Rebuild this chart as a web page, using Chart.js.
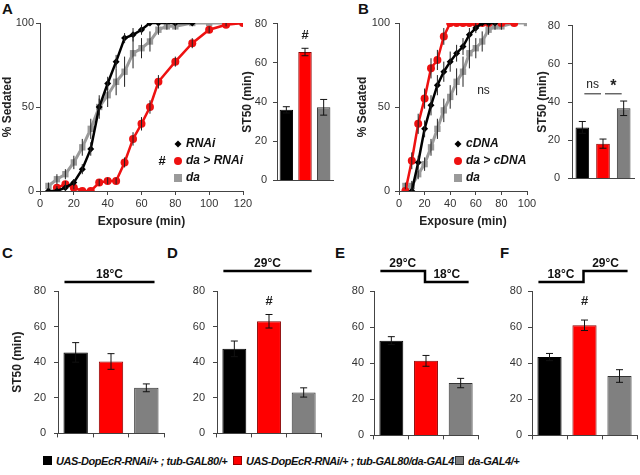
<!DOCTYPE html>
<html>
<head>
<meta charset="utf-8">
<script src="https://cdn.jsdelivr.net/npm/chart.js@4.4.1/dist/chart.umd.min.js"></script>
<style>
  html, body { margin: 0; padding: 0; background: #fff; }
  body { width: 640px; height: 475px; overflow: hidden; position: relative;
         font-family: 'Liberation Sans', Arial, sans-serif; color: #111; }
  canvas { position: absolute; }
  .panel { position: absolute; font-size: 15px; font-weight: bold; line-height: 15px; }
  .leg { position: absolute; top: 455px; font-size: 11px; font-weight: bold; font-style: italic;
         white-space: nowrap; line-height: 13px; letter-spacing: -0.45px; }
  .box { display: inline-block; width: 7px; height: 7px; border: 1px solid #222;
         margin-right: 4px; vertical-align: 0px; }
</style>
</head>
<body>
<div class="panel" style="left:2px;top:1px">A</div>
<div class="panel" style="left:358px;top:1px">B</div>
<div class="panel" style="left:2px;top:245px">C</div>
<div class="panel" style="left:167px;top:245px">D</div>
<div class="panel" style="left:335px;top:245px">E</div>
<div class="panel" style="left:500px;top:245px">F</div>

<div class="leg" style="left:43px"><span class="box" style="background:#000;border-color:#000"></span>UAS-DopEcR-RNAi/+ ; tub-GAL80/+</div>
<div class="leg" style="left:233px"><span class="box" style="background:#ff0000;border-color:#900"></span>UAS-DopEcR-RNAi/+ ; tub-GAL80/da-GAL4</div>
<div class="leg" style="left:455px"><span class="box" style="background:#808080;border-color:#333"></span>da-GAL4/+</div>

<script>
// ---- panel A: sedation curves ----
var aTimesRnai = [5, 10, 15, 20, 25, 30, 35, 40, 45, 50, 55, 60, 65, 70, 80, 90];
var aRnai      = [0, 0, 2, 5, 13, 25, 50, 64, 77, 91, 93, 96, 100, 100, 100, 100];
var aRnaiErr   = [0, 0, 1, 2, 3, 4, 5, 4, 4, 3, 4, 3, 0, 0, 0, 0];

var aTimesDaRnai = [10, 15, 20, 25, 30, 35, 40, 45, 50, 55, 60, 65, 70, 80, 90, 100, 110, 120];
var aDaRnai      = [2, 4, 2, 0, 0, 5, 6, 6, 17, 31, 40, 50, 65, 77, 88, 96, 99, 100];
var aDaRnaiErr   = [1, 2, 1, 0, 0, 2, 2, 2, 3, 4, 4, 4, 4, 3, 3, 2, 1, 0];

var aTimesDa = [5, 10, 15, 20, 25, 30, 35, 40, 45, 50, 55, 60, 65, 70, 75, 80, 90, 100, 110, 120];
var aDa      = [3, 7, 10, 17, 26, 37, 50, 57, 65, 71, 82, 85, 89, 96, 98, 98, 100, 100, 100, 100];
var aDaErr   = [2, 3, 3, 4, 5, 6, 7, 7, 8, 9, 9, 6, 6, 3, 2, 2, 0, 0, 0, 0];

// ---- panel B: sedation curves ----
var bTimesCdna = [10, 15, 20, 25, 30, 35, 40, 45, 50, 55, 60, 65, 70, 75];
var bCdna      = [0, 17, 37, 51, 63, 71, 77, 82, 86, 93, 97, 100, 100, 100];
var bCdnaErr   = [0, 4, 5, 6, 6, 6, 6, 5, 5, 4, 3, 0, 0, 0];

var bTimesDaCdna = [5, 10, 15, 20, 25, 30, 35, 40, 45, 50, 55, 60, 65, 70, 80, 90];
var bDaCdna      = [0, 18, 40, 55, 73, 78, 92, 100, 100, 100, 100, 100, 100, 100, 100, 100];
var bDaCdnaErr   = [0, 5, 6, 6, 6, 6, 5, 0, 0, 0, 0, 0, 0, 0, 0, 0];

var bTimesDa = [5, 10, 15, 20, 25, 30, 35, 40, 45, 50, 55, 60, 65, 70, 75, 80, 90, 100];
var bDa      = [3, 3, 10, 16, 26, 37, 48, 56, 65, 71, 82, 85, 89, 96, 98, 98, 100, 100];
var bDaErr   = [2, 3, 3, 4, 5, 6, 7, 7, 8, 9, 9, 6, 6, 3, 2, 2, 0, 0];

// ---- ST50 bars (black, red, gray) ----
var genotypes = ['UAS-DopEcR-RNAi/+ ; tub-GAL80/+', 'UAS-DopEcR-RNAi/+ ; tub-GAL80/da-GAL4', 'da-GAL4/+'];
var stA = [36, 65.5, 37.3],  stAErr = [1.6, 1.9, 4];
var stB = [26.7, 18.2, 36.7], stBErr = [3.1, 2.4, 3.8];
var stC = [45.5, 40.4, 25.6], stCErr = [5.5, 4.4, 2.2];
var stD = [47.5, 63, 23],     stDErr = [4.4, 3.8, 2.6];
var stE = [52.5, 41.3, 29],   stEErr = [2.2, 3, 2.6];
var stF = [43.4, 61, 32.9],   stFErr = [2, 2.9, 3.5];

var xTicksA = 120, xTicksB = 100;

var FONT = "'Liberation Sans', Arial, sans-serif";
Chart.defaults.font.family = FONT;
Chart.defaults.font.size = 11;
Chart.defaults.color = '#333';
Chart.defaults.animation = false;
Chart.defaults.events = [];
Chart.defaults.plugins.legend.display = false;
Chart.defaults.plugins.tooltip.enabled = false;

var barFill = ['#000000', '#ff0000', '#808080'];
var barEdge = ['#000000', '#8a0000', '#333333'];

function makeCanvas(left, top, width, height) {
  var c = document.createElement('canvas');
  c.width = width; c.height = height;
  c.style.left = left + 'px'; c.style.top = top + 'px';
  c.style.width = width + 'px'; c.style.height = height + 'px';
  document.body.appendChild(c);
  return c;
}

function pts(xs, ys) {
  return xs.map(function (x, i) { return { x: x, y: ys[i] }; });
}

function valueOf(d) { return typeof d === 'object' ? d.y : d; }

// error bars for every dataset that has an errors array
var errorBars = {
  id: 'errorBars',
  afterDatasetsDraw: function (chart) {
    var ctx = chart.ctx, ys = chart.scales.y;
    chart.data.datasets.forEach(function (ds, i) {
      if (!ds.errors) return;
      var meta = chart.getDatasetMeta(i);
      ctx.save();
      ctx.strokeStyle = ds.errColor || '#111';
      ctx.lineWidth = 1;
      meta.data.forEach(function (el, j) {
        var e = ds.errors[j];
        if (!e) return;
        var v = valueOf(ds.data[j]);
        var top = ys.getPixelForValue(v + e), bot = ys.getPixelForValue(v - e);
        ctx.beginPath();
        ctx.moveTo(el.x, top); ctx.lineTo(el.x, bot);
        if (ds.cap) {
          ctx.moveTo(el.x - ds.cap, top); ctx.lineTo(el.x + ds.cap, top);
          ctx.moveTo(el.x - ds.cap, bot); ctx.lineTo(el.x + ds.cap, bot);
        }
        ctx.stroke();
      });
      ctx.restore();
    });
  }
};

function drawMarker(ctx, style, x, y, r, color) {
  ctx.fillStyle = color;
  ctx.beginPath();
  if (style === 'circle') ctx.arc(x, y, r, 0, Math.PI * 2);
  else if (style === 'rect') ctx.rect(x - r, y - r, 2 * r, 2 * r);
  else { ctx.moveTo(x, y - r); ctx.lineTo(x + r, y); ctx.lineTo(x, y + r); ctx.lineTo(x - r, y); ctx.closePath(); }
  ctx.fill();
}

// small legend inside the curve plots
var inLegend = {
  id: 'inLegend',
  afterDraw: function (chart, args, opts) {
    if (!opts.dx) return;
    var ctx = chart.ctx, a = chart.chartArea;
    ctx.save();
    ctx.textBaseline = 'middle';
    chart.data.datasets.forEach(function (ds, i) {
      var x = a.left + opts.dx, y = a.top + opts.dy + i * 17;
      drawMarker(ctx, ds.pointStyle, x, y, ds.pointStyle === 'rectRot' ? 3.5 : 4, ds.borderColor);
      ctx.fillStyle = '#111';
      ctx.font = 'italic bold 12px ' + FONT;
      ctx.textAlign = 'left';
      ctx.fillText(ds.label, x + 8, y);
      if (opts.hashRow === i) {
        ctx.font = 'bold 13px ' + FONT;
        ctx.textAlign = 'center';
        ctx.fillText('#', x - 16, y);
      }
    });
    ctx.restore();
  }
};

// "#", "ns", "*" notes in data coordinates
var notes = {
  id: 'notes',
  afterDatasetsDraw: function (chart, args, opts) {
    var items = opts.items || [];
    var ctx = chart.ctx, xs = chart.scales.x, ys = chart.scales.y;
    ctx.save();
    ctx.textAlign = 'center';
    ctx.textBaseline = 'middle';
    items.forEach(function (it) {
      ctx.fillStyle = '#222';
      ctx.font = (it.weight || 'bold') + ' ' + (it.size || 13) + 'px ' + FONT;
      if (it.from !== undefined) {
        var a = xs.getPixelForValue(it.from) + 2, b = xs.getPixelForValue(it.to) - 2;
        var y = ys.getPixelForValue(it.y);
        ctx.strokeStyle = '#444'; ctx.lineWidth = 1.2;
        ctx.beginPath(); ctx.moveTo(a, y); ctx.lineTo(b, y); ctx.stroke();
        ctx.fillText(it.text, (a + b) / 2, y - 9 + (it.dy || 0));
      } else {
        ctx.fillText(it.text, xs.getPixelForValue(it.x), ys.getPixelForValue(it.y));
      }
    });
    ctx.restore();
  }
};

// temperature regime drawn above the bottom bar charts
var tempHeader = {
  id: 'tempHeader',
  afterDraw: function (chart, args, opts) {
    if (!opts.steps) return;
    var ctx = chart.ctx, top = chart.chartArea.top;
    var bars = chart.getDatasetMeta(0).data;
    var x0 = bars[0].x - bars[0].width / 2 + 1;
    var x2 = bars[2].x + bars[2].width / 2 - 4;
    var xm = chart.scales.x.getPixelForValue(1) - 1;
    var lev = { hi: top - 20, lo: top - 9 };
    var segs = opts.steps.length === 1
      ? [{ a: x0, b: x2, y: lev[opts.steps[0].level], t: opts.steps[0].label }]
      : [{ a: x0, b: xm, y: lev[opts.steps[0].level], t: opts.steps[0].label },
         { a: xm, b: x2, y: lev[opts.steps[1].level], t: opts.steps[1].label }];
    ctx.save();
    ctx.strokeStyle = '#000'; ctx.lineWidth = 2.5;
    ctx.beginPath();
    ctx.moveTo(segs[0].a, segs[0].y);
    segs.forEach(function (s) { ctx.lineTo(s.a, s.y); ctx.lineTo(s.b, s.y); });
    ctx.stroke();
    ctx.fillStyle = '#111';
    ctx.font = 'bold 12px ' + FONT;
    ctx.textAlign = 'center';
    ctx.textBaseline = 'alphabetic';
    segs.forEach(function (s) { ctx.fillText(s.t, (s.a + s.b) / 2, s.y - 4); });
    ctx.restore();
  }
};

function curveChart(area, axisW, tickPad, xMax, datasets, legendOpts, noteItems) {
  var padTop = 12, padRight = 14, xH = 38;
  var left = area.l - axisW, top = area.t - padTop;
  var cv = makeCanvas(left, top, area.r - left + padRight, area.b - top + xH);
  return new Chart(cv, {
    type: 'line',
    data: { datasets: datasets },
    options: {
      responsive: false,
      layout: { padding: { top: padTop, right: padRight, left: 0, bottom: 0 } },
      scales: {
        x: {
          type: 'linear', min: 0, max: xMax,
          ticks: { stepSize: 20, padding: 2 },
          grid: { drawOnChartArea: false, tickLength: 4, color: '#444' },
          border: { color: '#444' },
          title: { display: true, text: 'Exposure (min)', color: '#222', font: { size: 12, weight: 'bold' }, padding: 0 },
          afterFit: function (s) { s.height = xH; }
        },
        y: {
          min: 0, max: 100,
          ticks: { stepSize: 50, padding: tickPad },
          grid: { drawOnChartArea: false, tickLength: 4, color: '#444' },
          border: { color: '#444' },
          title: { display: true, text: '% Sedated', color: '#222', font: { size: 12, weight: 'bold' }, padding: 0 },
          afterFit: function (s) { s.width = axisW; }
        }
      },
      plugins: { inLegend: legendOpts, notes: { items: noteItems } }
    },
    plugins: [errorBars, inLegend, notes]
  });
}

function curveSet(label, times, vals, errs, color, style, radius, width) {
  return {
    label: label, data: pts(times, vals), errors: errs, errColor: '#222',
    borderColor: color, backgroundColor: color, borderWidth: width,
    pointStyle: style, pointRadius: radius, pointBorderWidth: 0, tension: 0
  };
}

function stChart(area, axisW, tickPad, values, errors, o) {
  var padTop = o.padTop, padRight = 3, xH = o.xTicks ? 4 : 2;
  var left = area.l - axisW, top = area.t - padTop;
  var cv = makeCanvas(left, top, area.r - left + padRight, area.b - top + xH);
  return new Chart(cv, {
    type: 'bar',
    data: {
      labels: genotypes,
      datasets: [{
        data: values, errors: errors, cap: 3.5, errColor: '#111',
        backgroundColor: barFill, borderColor: barEdge, borderWidth: 1,
        categoryPercentage: 1, barPercentage: o.barPct
      }]
    },
    options: {
      responsive: false,
      layout: { padding: { top: padTop, right: padRight, left: 0, bottom: 0 } },
      scales: {
        x: {
          ticks: { display: false },
          grid: { display: !!o.xTicks, offset: true, drawOnChartArea: false, tickLength: 4, color: '#444' },
          border: { color: '#444' },
          afterFit: function (s) { s.height = xH; }
        },
        y: {
          min: 0, max: 80,
          ticks: { stepSize: 20, padding: tickPad },
          grid: { drawOnChartArea: false, tickLength: 4, color: '#444' },
          border: { color: '#444' },
          title: { display: !!o.title, text: 'ST50 (min)', color: '#222', font: { size: 12, weight: 'bold' }, padding: 0 },
          afterFit: function (s) { s.width = axisW; }
        }
      },
      plugins: { notes: { items: o.notes || [] }, tempHeader: { steps: o.steps } }
    },
    plugins: [errorBars, notes, tempHeader]
  });
}

// A curves
curveChart({ l: 40, r: 243, t: 23, b: 191 }, 40, 2, xTicksA, [
  curveSet('RNAi', aTimesRnai, aRnai, aRnaiErr, '#000000', 'rectRot', 3.5, 2.5),
  curveSet('da > RNAi', aTimesDaRnai, aDaRnai, aDaRnaiErr, '#ee1111', 'circle', 4, 2.5),
  curveSet('da', aTimesDa, aDa, aDaErr, '#9a9a9a', 'rect', 4.5, 3)
], { dx: 138, dy: 121, hashRow: 1 }, []);

// B curves
curveChart({ l: 399, r: 527, t: 23, b: 191 }, 44, 5, xTicksB, [
  curveSet('cDNA', bTimesCdna, bCdna, bCdnaErr, '#000000', 'rectRot', 3.5, 2.5),
  curveSet('da > cDNA', bTimesDaCdna, bDaCdna, bDaCdnaErr, '#ee1111', 'circle', 4, 2.5),
  curveSet('da', bTimesDa, bDa, bDaErr, '#9a9a9a', 'rect', 4.5, 3)
], { dx: 59, dy: 121 }, [{ x: 66, y: 60, text: 'ns', weight: 'normal', size: 12 }]);

// A, B bars
stChart({ l: 277, r: 333, t: 23, b: 191 }, 37, 6, stA, stAErr,
  { padTop: 12, barPct: 0.72, title: true, notes: [{ x: 1, y: 74, text: '#' }] });
stChart({ l: 572, r: 634, t: 23, b: 191 }, 37, 8, stB, stBErr,
  { padTop: 12, barPct: 0.66, title: true, notes: [
    { from: 0, to: 1, y: 44.3, text: 'ns', weight: 'normal', size: 12 },
    { from: 1, to: 2, y: 44.3, text: '*', size: 16, dy: 2 }
  ] });

// C - F bars
stChart({ l: 58, r: 164, t: 291, b: 444 }, 48, 8, stC, stCErr,
  { padTop: 45, barPct: 0.69, title: true, xTicks: true, steps: [{ level: 'lo', label: '18°C' }] });
stChart({ l: 217, r: 321, t: 291, b: 444 }, 40, 8, stD, stDErr,
  { padTop: 45, barPct: 0.69, xTicks: true, steps: [{ level: 'hi', label: '29°C' }],
    notes: [{ x: 1, y: 74, text: '#' }] });
stChart({ l: 374, r: 478, t: 291, b: 444 }, 40, 6, stE, stEErr,
  { padTop: 45, barPct: 0.69, xTicks: true, steps: [{ level: 'hi', label: '29°C' }, { level: 'lo', label: '18°C' }] });
stChart({ l: 532, r: 637, t: 291, b: 444 }, 40, 6, stF, stFErr,
  { padTop: 45, barPct: 0.69, xTicks: true, steps: [{ level: 'lo', label: '18°C' }, { level: 'hi', label: '29°C' }],
    notes: [{ x: 1, y: 74, text: '#' }] });
</script>
</body>
</html>
